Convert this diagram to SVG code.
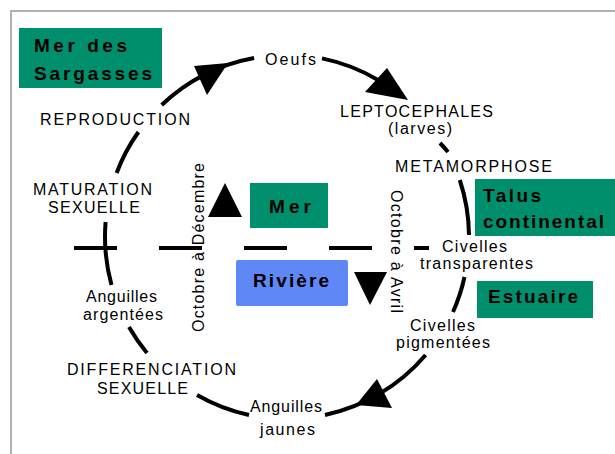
<svg xmlns="http://www.w3.org/2000/svg" width="615" height="454" viewBox="0 0 615 454">
<style>
.t{font-family:"Liberation Sans",Arial,sans-serif;font-size:16px;fill:#000}
.b{font-family:"Liberation Sans",Arial,sans-serif;font-size:19px;font-weight:bold;fill:#000}
.g{fill:#008f6c}
.bl{fill:#5f88f6}
.arc{fill:none;stroke:#000;stroke-width:4;stroke-linecap:butt}
.ah{fill:#000}
</style>
<rect width="615" height="454" fill="#fff"/>
<path d="M10,11 H615 M11,11 V454" stroke="#b0b0b0" stroke-width="2" fill="none"/>

<g id="connectors">
<path class="arc" d="M111.5,285 A182,182 0 0 1 105.6,222"/>
<path class="arc" d="M116.6,173 A182,182 0 0 1 138.4,132"/>
<path class="arc" d="M161.7,105 A182,182 0 0 1 254.1,58"/>
<polygon class="ah" points="194,66 228,63 207,95"/>
<path class="arc" d="M322,58.4 A182,182 0 0 1 378,80"/>
<polygon class="ah" points="387,68 365,92 408,100"/>
<path class="arc" d="M440,143 A182,182 0 0 1 448,152"/>
<path class="arc" d="M459.8,180 A182,182 0 0 1 469,235"/>
<path class="arc" d="M464.5,277 A182,182 0 0 1 453,312"/>
<path class="arc" d="M425.6,355 A182,182 0 0 1 325,415"/>
<polygon class="ah" points="377,379 392,408 356,405"/>
<path class="arc" d="M249,415 A182,182 0 0 1 197,395"/>
<path class="arc" d="M147,353 A182,182 0 0 1 129,327"/>
<line x1="74" y1="248" x2="429" y2="248" stroke="#000" stroke-width="4" stroke-dasharray="43 42"/>
<polygon class="ah" points="225,183 208,217 242,217"/>
<polygon class="ah" points="354,272 387,272 370,305"/>
</g>

<g id="mer-des-sargasses">
<rect class="g" x="19" y="28" width="143" height="60"/>
<text class="b" x="34" y="52" textLength="93">Mer des</text>
<text class="b" x="34" y="80" textLength="118">Sargasses</text>
</g>
<g id="mer">
<rect class="g" x="250" y="183" width="78" height="45"/>
<text class="b" x="269" y="213" textLength="42">Mer</text>
</g>
<g id="riviere">
<rect class="bl" x="236" y="260" width="112" height="46" rx="2"/>
<text class="b" x="253" y="287" textLength="76">Rivière</text>
</g>
<g id="talus-continental">
<rect class="g" x="475" y="179" width="140" height="57"/>
<text class="b" x="483" y="202" textLength="58">Talus</text>
<text class="b" x="483" y="228" textLength="121">continental</text>
</g>
<g id="estuaire">
<rect class="g" x="477" y="281" width="116" height="37"/>
<text class="b" x="488" y="303" textLength="90">Estuaire</text>
</g>

<g id="oeufs"><text class="t" x="265" y="65" textLength="51">Oeufs</text></g>
<g id="leptocephales">
<text class="t" x="340" y="117" textLength="153">LEPTOCEPHALES</text>
<text class="t" x="388" y="134" textLength="64">(larves)</text>
</g>
<g id="metamorphose"><text class="t" x="395" y="172" textLength="157">METAMORPHOSE</text></g>
<g id="civelles-transparentes">
<text class="t" x="442" y="252" textLength="65">Civelles</text>
<text class="t" x="420" y="269" textLength="113">transparentes</text>
</g>
<g id="civelles-pigmentees">
<text class="t" x="410" y="331" textLength="65">Civelles</text>
<text class="t" x="396" y="348" textLength="94">pigmentées</text>
</g>
<g id="anguilles-jaunes">
<text class="t" x="250" y="412" textLength="72">Anguilles</text>
<text class="t" x="260" y="435" textLength="55">jaunes</text>
</g>
<g id="differenciation">
<text class="t" x="67" y="375" textLength="169">DIFFERENCIATION</text>
<text class="t" x="97" y="394" textLength="91">SEXUELLE</text>
</g>
<g id="anguilles-argentees">
<text class="t" x="86" y="302" textLength="71">Anguilles</text>
<text class="t" x="83" y="320" textLength="80">argentées</text>
</g>
<g id="maturation">
<text class="t" x="33" y="195" textLength="119">MATURATION</text>
<text class="t" x="48" y="213" textLength="92">SEXUELLE</text>
</g>
<g id="reproduction"><text class="t" x="40" y="125" textLength="150">REPRODUCTION</text></g>

<g id="periode-mer"><text class="t" transform="translate(204,332) rotate(-90)" textLength="169">Octobre à Décembre</text></g>
<g id="periode-riviere"><text class="t" transform="translate(391,190) rotate(90)" textLength="123">Octobre à Avril</text></g>
</svg>
